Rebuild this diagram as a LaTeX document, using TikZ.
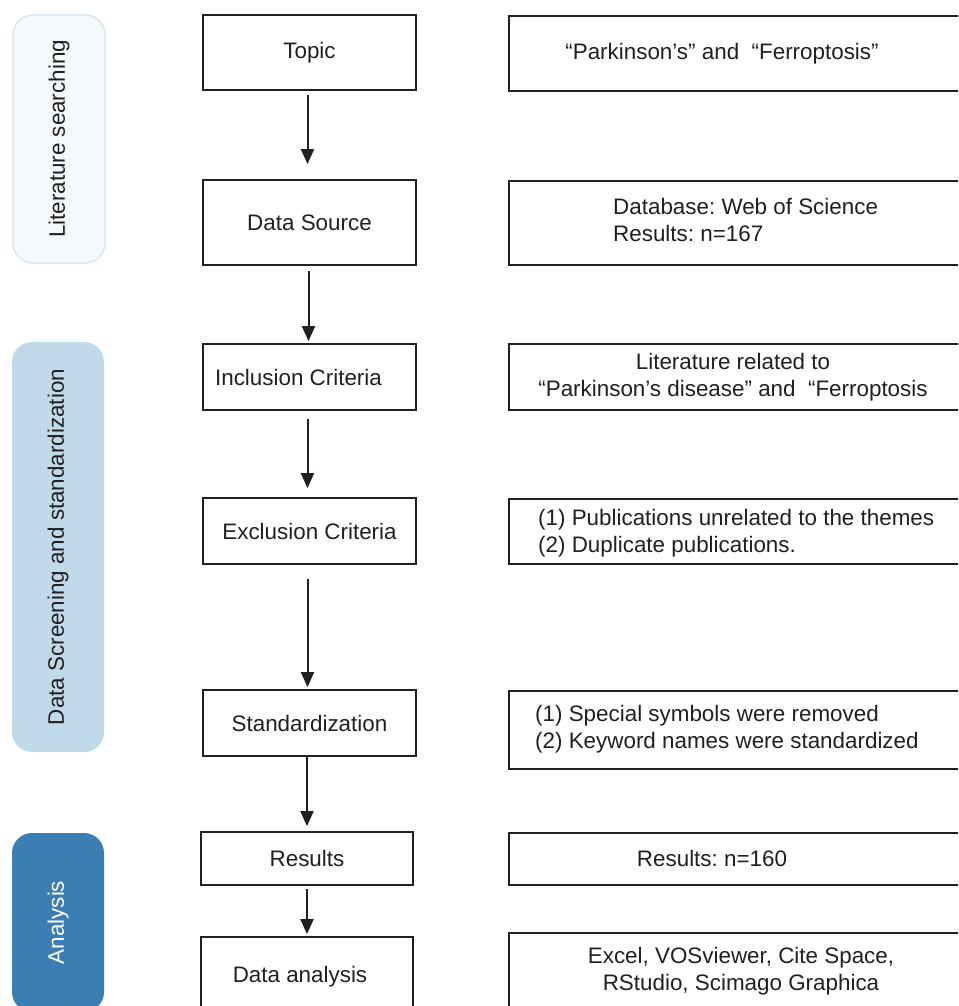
\documentclass[tikz,border=0pt]{standalone}
\usepackage{fontspec}
\setmainfont{Liberation Sans}
\usetikzlibrary{arrows.meta}
\frenchspacing
\definecolor{ink}{HTML}{231F20}
\definecolor{litfill}{HTML}{F4F9FC}
\definecolor{litdraw}{HTML}{D9E7F0}
\definecolor{scrfill}{HTML}{C1DAE9}
\definecolor{anafill}{HTML}{3A7EB3}
\tikzset{
  every node/.style={font=\fontsize{22.4}{27}\selectfont, text=ink},
  stepbox/.style={draw=ink, line width=1.8pt, minimum width=213pt, inner sep=0pt},
  infobox/.style={draw=ink, line width=1.8pt, minimum width=467pt, inner sep=0pt, anchor=north west},
  txt/.style={inner sep=0pt},
  phase/.style={rotate=90, rounded corners=20pt, minimum height=92pt, inner sep=0pt},
  arr/.style={draw=ink, line width=2pt, -{Triangle[length=15pt,width=13pt]}}
}
\begin{document}
\begin{tikzpicture}[x=1pt,y=-1pt]
\useasboundingbox (0,0) rectangle (958,1006);
\clip (0,0) rectangle (958,1006);
\fill[white] (0,0) rectangle (958,1006);

% phase bars
\node[phase, fill=litfill, draw=litdraw, line width=1.5pt, minimum width=248pt] (p1) at (59,139) {Literature searching};
\node[phase, fill=scrfill, minimum width=410pt] (p2) at (58,547) {Data Screening and standardization};
\node[phase, fill=anafill, minimum width=179pt, text=white] (p3) at (58,922.5) {Analysis};

% left step boxes
\node[stepbox, minimum height=75pt] (topic) at (309.5,52.5) {Topic};
\node[stepbox, minimum height=85pt] (dsrc) at (309.5,222.5) {Data Source};
\node[stepbox, minimum height=66pt] (incl) at (309.5,377) {Inclusion Criteria\kern22pt};
\node[stepbox, minimum height=66pt] (excl) at (309.5,531) {Exclusion Criteria};
\node[stepbox, minimum height=66pt] (stdz) at (309.5,723) {Standardization};
\node[stepbox, minimum height=53pt, minimum width=212pt] (res) at (307,858.5) {Results};
\node[stepbox, minimum height=83pt, minimum width=212pt] (ana) at (307,978.5) {};
\node[txt] (anat) at (300,977) {Data analysis};

% arrows
\draw[arr, shorten <=4pt, shorten >=15pt] ([xshift=-2pt]topic.south) -- ([xshift=-2pt]dsrc.north);
\draw[arr, shorten <=5pt, shorten >=2pt] ([xshift=-1pt]dsrc.south) -- ([xshift=-1pt]incl.north);
\draw[arr, shorten <=8pt, shorten >=9pt] ([xshift=-2pt]incl.south) -- ([xshift=-2pt]excl.north);
\draw[arr, shorten <=14pt, shorten >=2pt] ([xshift=-2pt]excl.south) -- ([xshift=-2pt]stdz.north);
\draw[arr, shorten <=0pt, shorten >=5pt] ([xshift=-2.5pt]stdz.south) -- (res.north);
\draw[arr, shorten <=3pt, shorten >=2pt] (res.south) -- (ana.north);

% right info boxes
\node[infobox, minimum height=75pt] (r1) at (508,15) {};
\node[infobox, minimum height=84pt] (r2) at (508,180) {};
\node[infobox, minimum height=66pt] (r3) at (508,343) {};
\node[infobox, minimum height=65pt] (r4) at (508,498) {};
\node[infobox, minimum height=78pt] (r5) at (508,690) {};
\node[infobox, minimum height=52pt] (r6) at (508,832) {};
\node[infobox, minimum height=88pt] (r7) at (508,932) {};

\node[txt] (t1) at (722,54) {“Parkinson’s” and \ “Ferroptosis”};
\node[txt, align=left, anchor=west] (t2) at (613,220) {Database: Web of Science\\Results: n=167};
\node[txt, align=center] (t3) at (733,377) {Literature related to\\“Parkinson’s disease” and \ “Ferroptosis};
\node[txt, align=left, anchor=west] (t4) at (538,533) {(1) Publications unrelated to the themes\\(2) Duplicate publications.};
\node[txt, align=left, anchor=west] (t5) at (535,729) {(1) Special symbols were removed\\(2) Keyword names were standardized};
\node[txt] (t6) at (712,858) {Results: n=160};
\node[txt, align=center] (t7) at (741,971) {Excel, VOSviewer, Cite Space,\\RStudio, Scimago Graphica};
\end{tikzpicture}
\end{document}
